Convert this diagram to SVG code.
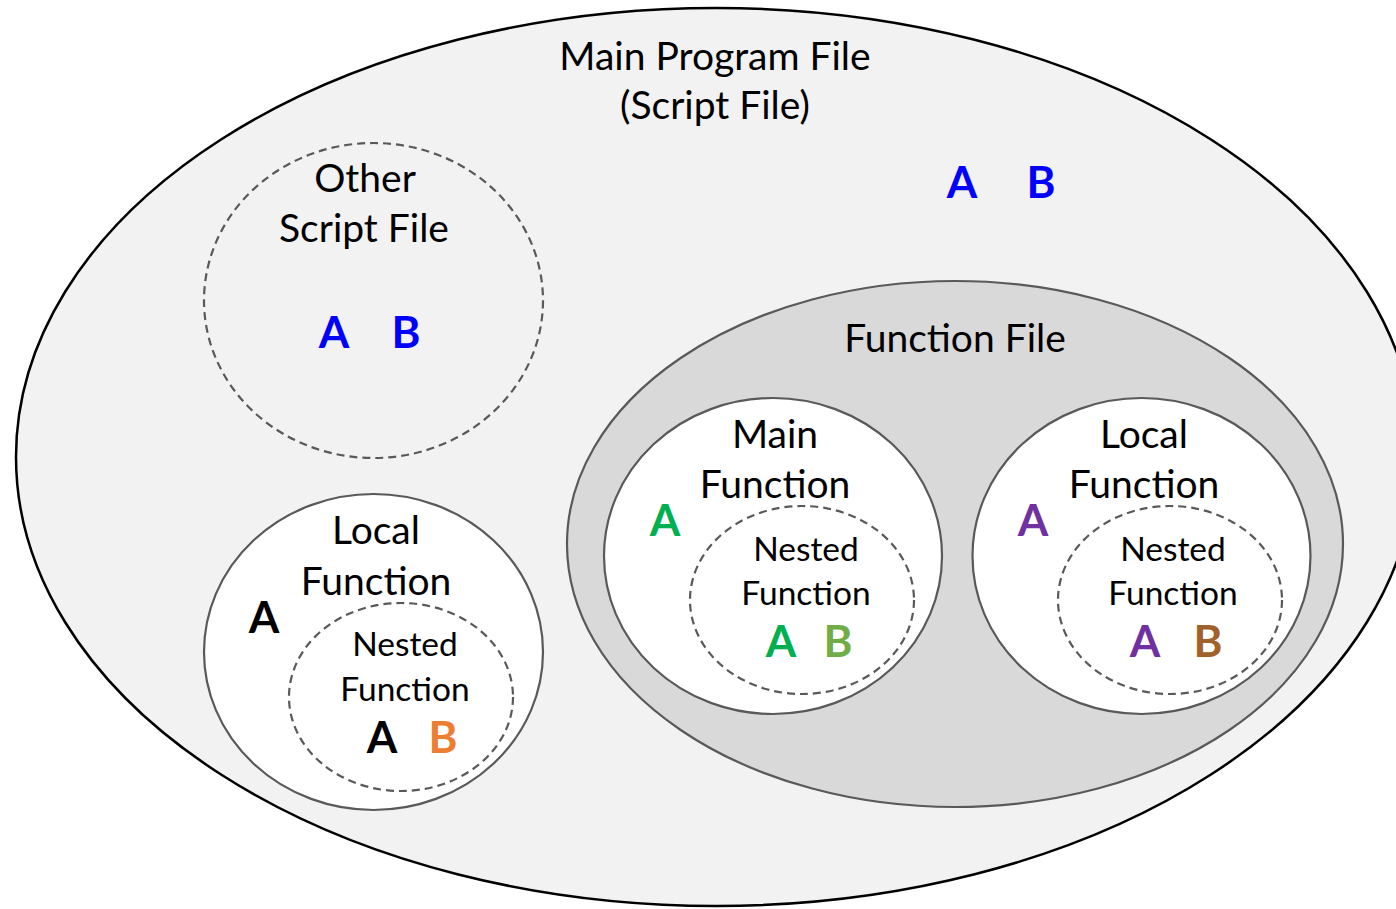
<svg xmlns="http://www.w3.org/2000/svg" width="1396" height="909" viewBox="0 0 1396 909">
<style>
.t{font-family:Lato,"Open Sans",sans-serif;font-size:39px;fill:#000;text-anchor:middle}
.n{font-family:Lato,"Open Sans",sans-serif;font-size:33.5px;fill:#000;text-anchor:middle}
.v{font-family:Lato,"Open Sans",sans-serif;font-size:44px;font-weight:bold;text-anchor:middle}
.solid{stroke:#595959;stroke-width:2.2;fill:#fff}
.dash{stroke:#595959;stroke-width:2.2;fill:none;stroke-dasharray:8 5}
</style>
<rect width="1396" height="909" fill="#fff"/>
<g id="main-program">
<ellipse cx="716" cy="457" rx="700" ry="449" fill="#F2F2F2" stroke="#000" stroke-width="2.5"/>
<text class="t" x="715" y="70">Main Program File</text>
<text class="t" x="715" y="119">(Script File)</text>
<text class="v" x="962" y="198" fill="#0000FF">A</text>
<text class="v" x="1041" y="198" fill="#0000FF">B</text>
</g>
<g id="other-script">
<ellipse class="dash" cx="373.5" cy="300.5" rx="169.5" ry="157.5"/>
<text class="t" x="365" y="192">Other</text>
<text class="t" x="364" y="242">Script File</text>
<text class="v" x="334" y="348" fill="#0000FF">A</text>
<text class="v" x="406" y="348" fill="#0000FF">B</text>
</g>
<g id="local-left">
<ellipse class="solid" cx="373.5" cy="652" rx="169.5" ry="158"/>
<text class="t" x="376" y="544">Local</text>
<text class="t" x="376" y="595">Function</text>
<text class="v" x="264" y="633" fill="#000">A</text>
<g id="nested-left">
<ellipse class="dash" cx="401" cy="697" rx="112" ry="94"/>
<text class="n" x="405" y="656">Nested</text>
<text class="n" x="405" y="701">Function</text>
<text class="v" x="382" y="753" fill="#000">A</text>
<text class="v" x="443" y="753" fill="#ED7D31">B</text>
</g>
</g>
<g id="function-file">
<ellipse cx="955" cy="544" rx="388" ry="263" fill="#D9D9D9" stroke="#595959" stroke-width="2.2"/>
<text class="t" x="955" y="352">Function File</text>
</g>
<g id="main-function">
<ellipse class="solid" cx="773" cy="556" rx="169" ry="158"/>
<text class="t" x="775" y="448">Main</text>
<text class="t" x="775" y="498">Function</text>
<text class="v" x="665" y="536" fill="#00B050">A</text>
<g id="nested-main">
<ellipse class="dash" cx="802" cy="600" rx="112" ry="94"/>
<text class="n" x="806" y="561">Nested</text>
<text class="n" x="806" y="605">Function</text>
<text class="v" x="781" y="657" fill="#00B050">A</text>
<text class="v" x="838" y="657" fill="#70AD47">B</text>
</g>
</g>
<g id="local-right">
<ellipse class="solid" cx="1141.5" cy="556" rx="169" ry="158"/>
<text class="t" x="1144" y="448">Local</text>
<text class="t" x="1144" y="498">Function</text>
<text class="v" x="1033" y="536" fill="#7030A0">A</text>
<g id="nested-right">
<ellipse class="dash" cx="1170" cy="600" rx="112" ry="94"/>
<text class="n" x="1173" y="561">Nested</text>
<text class="n" x="1173" y="605">Function</text>
<text class="v" x="1145" y="657" fill="#7030A0">A</text>
<text class="v" x="1208" y="657" fill="#A0622A">B</text>
</g>
</g>
<g id="connectors"/>
</svg>
